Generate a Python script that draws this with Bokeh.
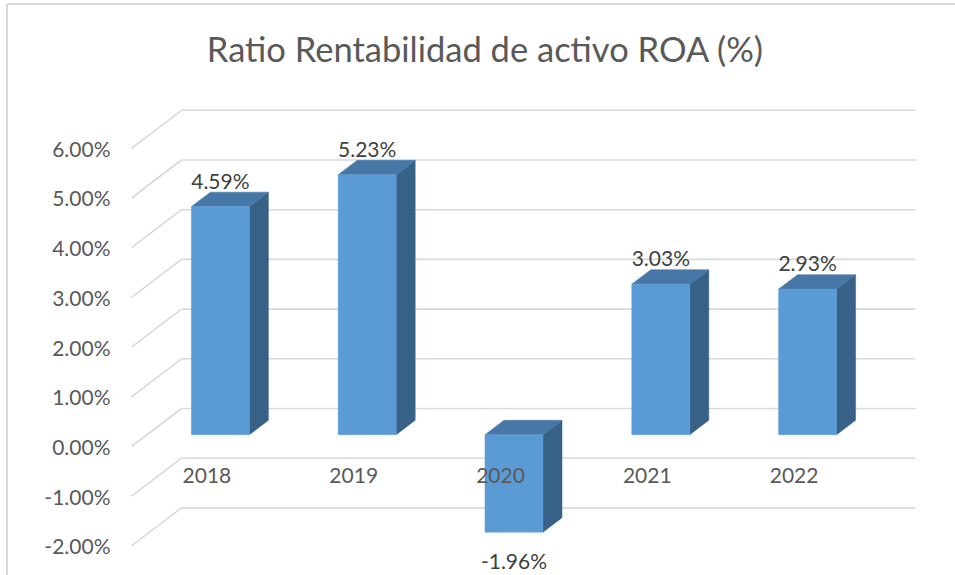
from bokeh.plotting import figure
from bokeh.models import Range1d, Label, ColumnDataSource
from bokeh.embed import file_html
from bokeh.resources import INLINE
from bokeh.core.properties import value

# ---- data ----
years = ["2018", "2019", "2020", "2021", "2022"]
roa = [4.59, 5.23, -1.96, 3.03, 2.93]
roa_labels = ["4.59%", "5.23%", "-1.96%", "3.03%", "2.93%"]
y_ticks = [-2, -1, 0, 1, 2, 3, 4, 5, 6]
y_tick_labels = ["-2.00%", "-1.00%", "0.00%", "1.00%", "2.00%", "3.00%", "4.00%", "5.00%", "6.00%"]
title_text = "Ratio Rentabilidad de activo ROA (%)"

# ---- pseudo-3D geometry (category units / percent units) ----
DX = 0.3406   # full depth, horizontal, in category units
DY = 0.7646   # full depth, vertical, in percent units
D0, D1 = 0.31, 0.69
HALF = 0.1975
N = len(years)

FONT = "Lato"
GRID = "#D9D9D9"
FRONT = "#5B9BD5"
TOP = "#4677A7"
SIDE = "#386187"

X0, X1 = -0.8924, 5.6131
Y0, Y1 = -2.5956, 8.9738

p = figure(width=955, height=575,
           x_range=Range1d(X0, X1), y_range=Range1d(Y0, Y1),
           output_backend="svg", toolbar_location=None,
           x_axis_location=None, y_axis_location=None, min_border=0)
p.grid.visible = False
p.outline_line_color = None
p.background_fill_color = "white"
p.border_fill_color = "white"

# chart border (left & top)
BL, BT = -0.848, 8.903
p.segment(x0=[BL, BL], y0=[Y0 - 1, BT], x1=[BL, X1 + 1], y1=[BT, BT],
          line_color=GRID, line_width=2)

# gridlines: side diagonals and back wall
diag = ColumnDataSource(dict(x0=[0.0] * len(y_ticks), y0=y_ticks,
                             x1=[DX] * len(y_ticks), y1=[t + DY for t in y_ticks]))
p.segment(x0="x0", y0="y0", x1="x1", y1="y1", source=diag, line_color=GRID, line_width=1.6)
back = ColumnDataSource(dict(x0=[DX] * len(y_ticks), y0=[t + DY for t in y_ticks],
                             x1=[N + DX] * len(y_ticks), y1=[t + DY for t in y_ticks]))
p.segment(x0="x0", y0="y0", x1="x1", y1="y1", source=back, line_color=GRID, line_width=1.6)

# y tick labels
p.text(x=[0.0] * len(y_ticks), y=y_ticks, text=y_tick_labels, x_offset=-21,
       text_align="right", text_baseline="middle", text_font=value(FONT),
       text_font_size="21px", text_color="#595959")

# bars
left, right, top, bottom = [], [], [], []
top_xs, top_ys, side_xs, side_ys = [], [], [], []
for i, v in enumerate(roa):
    L = i + 0.5 - HALF
    R = i + 0.5 + HALF
    t = max(v, 0.0)
    b = min(v, 0.0)
    left.append(L + D0 * DX)
    right.append(R + D0 * DX)
    top.append(t + D0 * DY)
    bottom.append(b + D0 * DY)
    top_xs.append([L + D0 * DX, R + D0 * DX, R + D1 * DX, L + D1 * DX])
    top_ys.append([t + D0 * DY, t + D0 * DY, t + D1 * DY, t + D1 * DY])
    side_xs.append([R + D0 * DX, R + D1 * DX, R + D1 * DX, R + D0 * DX])
    side_ys.append([t + D0 * DY, t + D1 * DY, b + D1 * DY, b + D0 * DY])

p.patches(xs=side_xs, ys=side_ys, fill_color=SIDE, line_color=SIDE, line_width=0.5)
p.patches(xs=top_xs, ys=top_ys, fill_color=TOP, line_color=TOP, line_width=0.5)
p.quad(left=left, right=right, top=top, bottom=bottom, fill_color=FRONT,
       line_color=FRONT, line_width=0.5)

# category labels
p.text(x=[i + 0.5 for i in range(N)], y=[0.0] * N, text=years, x_offset=2, y_offset=29,
       text_align="center", text_baseline="middle", text_font=value(FONT),
       text_font_size="21px", text_color="#595959")

# data labels
pos_x = [i + 0.5 + D0 * DX for i, v in enumerate(roa) if v >= 0]
pos_y = [v + D1 * DY for v in roa if v >= 0]
pos_t = [lab for v, lab in zip(roa, roa_labels) if v >= 0]
neg_x = [i + 0.5 + D0 * DX for i, v in enumerate(roa) if v < 0]
neg_y = [v + D0 * DY for v in roa if v < 0]
neg_t = [lab for v, lab in zip(roa, roa_labels) if v < 0]
p.text(x=pos_x, y=pos_y, text=pos_t, y_offset=-12, text_align="center",
       text_baseline="middle", text_font=value(FONT), text_font_size="21px",
       text_color="#404040")
p.text(x=neg_x, y=neg_y, text=neg_t, y_offset=28, text_align="center",
       text_baseline="middle", text_font=value(FONT), text_font_size="21px",
       text_color="#404040")

# title
p.add_layout(Label(x=485, y=527, x_units="screen", y_units="screen", text=title_text,
                   text_align="center", text_baseline="middle", text_font=FONT,
                   text_font_size="34.5px", text_color="#595959"))

open("out.html", "w").write(file_html(p, INLINE))
